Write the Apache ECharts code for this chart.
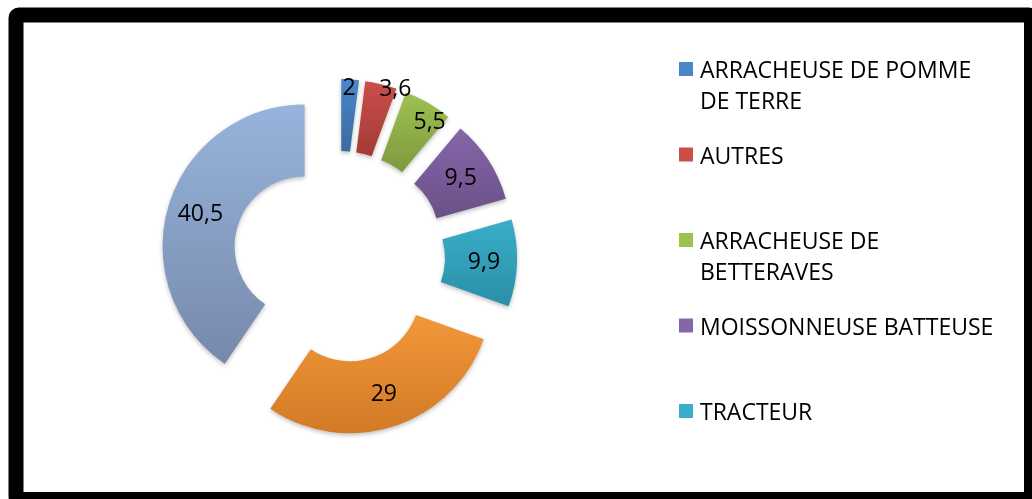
<!DOCTYPE html>
<html>
<head>
<meta charset="utf-8">
<script src="https://cdn.jsdelivr.net/npm/echarts@6/dist/echarts.min.js"></script>
<style>
  html, body { margin: 0; padding: 0; background: #fff; }
  #chart { width: 1032px; height: 499px; }
</style>
</head>
<body>
<div id="chart"></div>
<script>
// donnees du graphique
const categories = [
  'ARRACHEUSE DE POMME DE TERRE',
  'AUTRES',
  'ARRACHEUSE DE BETTERAVES',
  'MOISSONNEUSE BATTEUSE',
  'TRACTEUR',
  'CATEGORIE 6',
  'CATEGORIE 7'
];
const values = [2, 3.6, 5.5, 9.5, 9.9, 29, 40.5];
const labels = ['2', '3,6', '5,5', '9,5', '9,9', '29', '40,5'];
// seules les 5 premieres apparaissent dans la legende
const legendNames = categories.slice(0, 5);

// couleurs haut / bas du degrade
const topColors = ['#4a86c8', '#cb4e4a', '#9ec150', '#8566a8', '#3aaec8', '#f3973a', '#98b4dc'];
const bottomColors = ['#3a6ba0', '#a23b36', '#7d9a3e', '#6a5088', '#2a8fa8', '#d27a26', '#7689ab'];

// petits decalages des etiquettes des petites parts
const labelNudge = [[1, -24], [22, -27], [18, -9], [0, 0], [0, 0], [0, 0], [0, 0]];

const wrap = {
  'ARRACHEUSE DE POMME DE TERRE': 'ARRACHEUSE DE POMME\nDE TERRE',
  'ARRACHEUSE DE BETTERAVES': 'ARRACHEUSE DE\nBETTERAVES'
};

const font = 'Open Sans';

function grad(i) {
  return new echarts.graphic.LinearGradient(0, 0, 0, 1, [
    { offset: 0, color: topColors[i] },
    { offset: 1, color: bottomColors[i] }
  ]);
}

const pieData = values.map((v, i) => ({
  name: categories[i],
  value: v,
  selected: true,
  itemStyle: { color: grad(i) },
  label: { formatter: labels[i] }
}));

const chart = echarts.init(document.getElementById('chart'));

chart.setOption({
  animation: false,
  backgroundColor: '#fff',
  legend: {
    orient: 'vertical',
    left: 679,
    top: 56,
    padding: 0,
    itemGap: 23.5,
    itemWidth: 16,
    itemHeight: 62,
    selectedMode: false,
    // carre en haut d'une boite haute pour l'aligner sur la premiere ligne
    icon: 'path://M0 0L0.01 0M0 6h14v14h-14zM16 62L16.01 62',
    itemStyle: { borderWidth: 0 },
    data: legendNames.map((n, i) => ({ name: n, itemStyle: { color: topColors[i] } })),
    formatter: n => wrap[n] || n + '\n ',
    textStyle: { fontFamily: font, fontSize: 23, lineHeight: 31, color: '#000' }
  },
  series: [{
    type: 'pie',
    center: [339, 257],
    radius: [70, 142],
    startAngle: 90,
    clockwise: true,
    selectedMode: 'multiple',
    selectedOffset: 36,
    emphasis: { disabled: true },
    itemStyle: {
      borderWidth: 0,
      shadowBlur: 4,
      shadowOffsetY: 2,
      shadowColor: 'rgba(0,0,0,0.25)'
    },
    label: {
      position: 'inside',
      fontFamily: font,
      fontSize: 23,
      color: '#000'
    },
    labelLine: { show: false },
    labelLayout: p => ({ dx: labelNudge[p.dataIndex][0], dy: labelNudge[p.dataIndex][1] }),
    data: pieData
  }],
  graphic: [{
    type: 'rect',
    z: 100,
    shape: { x: 16, y: 15, width: 1015.5, height: 484.5, r: 3 },
    style: { fill: 'none', stroke: '#000', lineWidth: 15 }
  }]
});
</script>
</body>
</html>
